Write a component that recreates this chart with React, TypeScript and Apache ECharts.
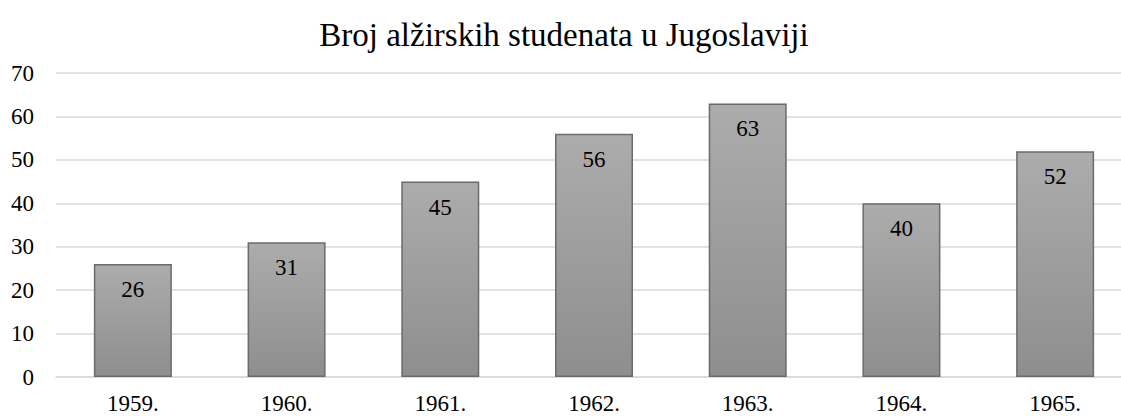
import React, { useEffect, useRef } from "react";
import * as echarts from "echarts";

const title = "Broj alžirskih studenata u Jugoslaviji";
const categories = ["1959.", "1960.", "1961.", "1962.", "1963.", "1964.", "1965."];
const values = [26, 31, 45, 56, 63, 40, 52];

const FONT = "'Liberation Serif', 'Times New Roman', serif";

export default function App() {
  const ref = useRef<HTMLDivElement>(null);
  useEffect(() => {
    document.body.style.overflow = "hidden";
    const chart = echarts.init(ref.current!, null, { renderer: "svg" });
    chart.setOption({
      animation: false,
      backgroundColor: "#ffffff",
      textStyle: { fontFamily: FONT },
      title: {
        text: title,
        left: 559,
        textAlign: "center",
        top: 13,
        textStyle: { fontFamily: FONT, fontSize: 33, fontWeight: "normal", color: "#000" },
      },
      grid: { left: 56, right: 3, top: 73, bottom: 39, containLabel: false },
      xAxis: {
        type: "category",
        data: categories,
        axisLine: { lineStyle: { color: "#d9d9d9", width: 1.5 } },
        axisTick: { show: false },
        axisLabel: { fontFamily: FONT, fontSize: 23, color: "#000", margin: 15 },
      },
      yAxis: {
        type: "value",
        min: 0,
        max: 70,
        interval: 10,
        axisLine: { show: false },
        axisTick: { show: false },
        splitLine: { lineStyle: { color: "#d9d9d9", width: 1.5 } },
        axisLabel: { fontFamily: FONT, fontSize: 23, color: "#000", margin: 22 },
      },
      series: [
        {
          type: "bar",
          data: values,
          barWidth: 78,
          itemStyle: {
            color: new echarts.graphic.LinearGradient(0, 0, 0, 1, [
              { offset: 0, color: "#acacac" },
              { offset: 1, color: "#8e8e8e" },
            ]),
            borderColor: "#6b6b6b",
            borderWidth: 1.5,
          },
          label: {
            show: true,
            position: "insideTop",
            distance: 14,
            fontFamily: FONT,
            fontSize: 23,
            color: "#000",
          },
        },
      ],
    });
    return () => chart.dispose();
  }, []);
  return (
    <div
      ref={ref}
      style={{ position: "absolute", left: 0, top: 0, width: 1135, height: 416 }}
    />
  );
}
